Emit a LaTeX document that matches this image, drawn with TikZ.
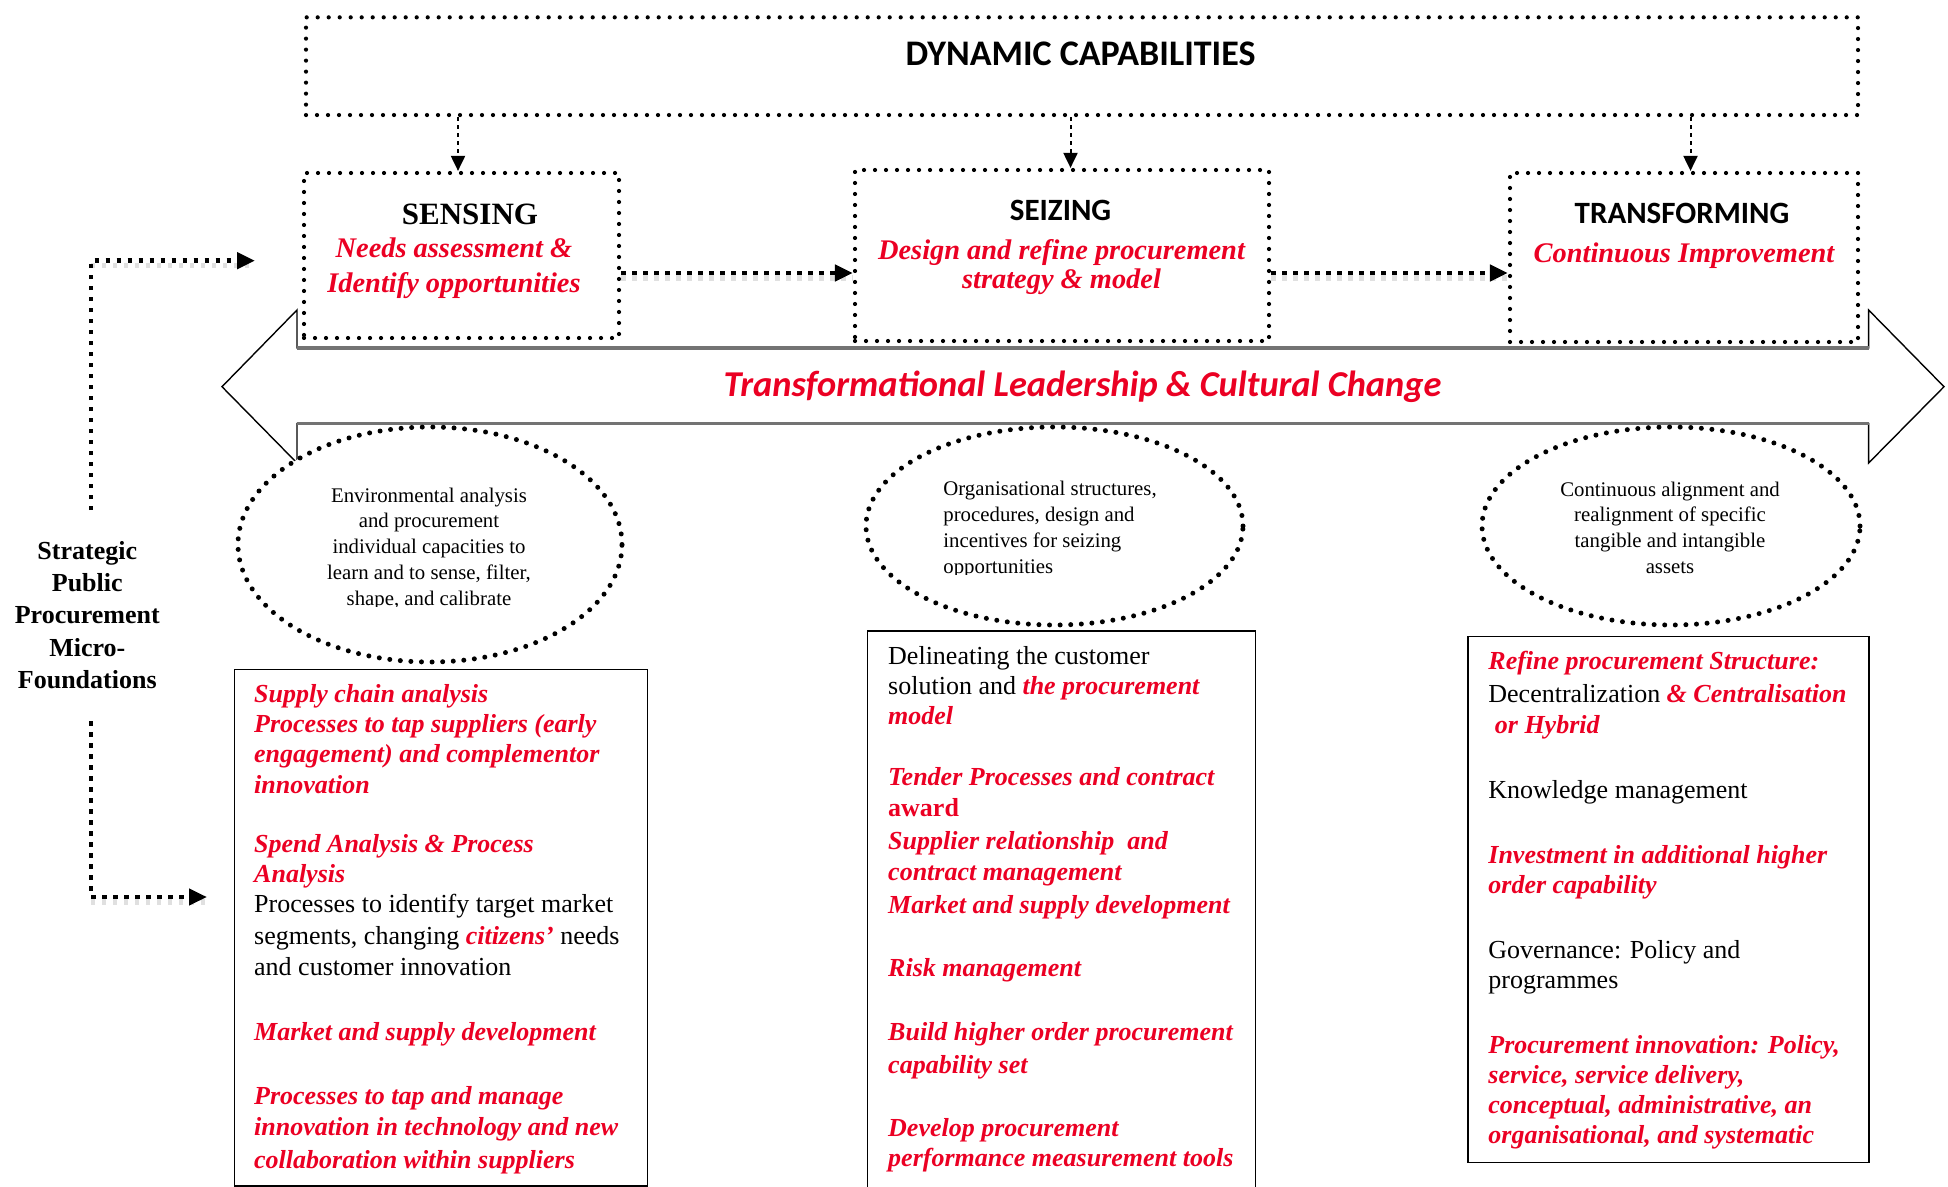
\documentclass[tikz,border=0pt]{standalone}
\usepackage{fontspec}
\setmainfont{Liberation Serif}
\newfontfamily\headsans{Carlito}
\usetikzlibrary{arrows.meta,shapes.geometric}
\definecolor{accentred}{RGB}{235,0,35}
\definecolor{bodygray}{RGB}{115,115,115}
\newcommand{\rbi}[1]{{\color{accentred}\bfseries\itshape #1}}
\newcommand{\rb}[1]{{\color{accentred}\bfseries #1}}

\begin{document}
\begin{tikzpicture}[x=0.5pt,y=-0.5pt,
  dotbox/.style={draw, rectangle, inner sep=0pt, line width=2.1pt, dash pattern=on 0pt off 5.5pt, line cap=round},
  dotell/.style={draw, ellipse, inner sep=0pt, fill=white, line width=2.5pt, dash pattern=on 0pt off 5.3pt, line cap=round},
  listbox/.style={draw, rectangle, inner sep=0pt, line width=0.7pt},
  thinlink/.style={line width=1pt, dash pattern=on 2pt off 2pt, -{Triangle[length=7.5pt,width=7pt]}},
  thicklink/.style={line width=2.2pt, dash pattern=on 2.2pt off 3.3pt, -{Triangle[length=9pt,width=8pt]}},
  linkshadow/.style={line width=2.6pt, dash pattern=on 2.2pt off 3.3pt, black, opacity=0.12},
  txt/.style={inner sep=0pt},
  sanstitle/.style={txt, anchor=base, font=\headsans\bfseries\fontsize{15.5pt}{18pt}\selectfont},
  redsub/.style={txt, anchor=base, text=accentred, font=\bfseries\itshape\fontsize{14.2pt}{17pt}\selectfont},
]
\useasboundingbox (0,0) rectangle (1948,1187);

% ---- leadership band: a double-headed block arrow ----
\draw[line width=0.7pt, fill=white]
  (222,386.7) -- (297,310) -- (297,348) -- (1868.6,348) -- (1868.6,310)
  -- (1944,386.7) -- (1868.6,463) -- (1868.6,423.5) -- (297,423.5) -- (297,463) -- cycle;
\draw[bodygray, line width=1.6pt] (297,348) -- (1868.6,348) (297,423.5) -- (1868.6,423.5);
\node[txt, anchor=base, text=accentred, font=\headsans\bfseries\itshape\fontsize{18.2pt}{20pt}\selectfont]
  (lead) at (1082.5,397) {Transformational Leadership \& Cultural Change};

% ---- dynamic capabilities frame ----
\node[dotbox, minimum width=776pt, minimum height=48.85pt] (dc) at (1082,66.2) {};
\node[txt, anchor=base, font=\headsans\bfseries\fontsize{18pt}{20pt}\selectfont]
  (dctitle) at (1080.5,65.7) {DYNAMIC CAPABILITIES};

% ---- the three capability boxes ----
\node[dotbox, minimum width=157.5pt, minimum height=82.5pt] (sens) at (461.5,255.5) {};
\node[dotbox, minimum width=207pt, minimum height=85.5pt] (seiz) at (1062,255.5) {};
\node[dotbox, minimum width=174pt, minimum height=84.5pt] (trans) at (1684,257.5) {};

\node[txt, anchor=base, font=\bfseries\fontsize{15.5pt}{18pt}\selectfont] (senstitle) at (470,225) {SENSING};
\node[redsub] (sens1) at (454,258) {Needs assessment \&};
\node[redsub] (sens2) at (454,293) {Identify opportunities};

\node[sanstitle] (seiztitle) at (1060.5,221) {SEIZING};
\node[redsub] (seiz1) at (1061.5,260) {Design and refine procurement};
\node[redsub] (seiz2) at (1061.5,289) {strategy \& model};

\node[sanstitle] (transtitle) at (1682,224) {TRANSFORMING};
\node[redsub] (trans1) at (1684,263) {Continuous Improvement};

% ---- links from the frame and between the boxes ----
\draw[thinlink] ([xshift=-1.75pt]sens.north |- dc.south) -- ([xshift=-1.75pt]sens.north);
\draw[thinlink] ([xshift=4.25pt]seiz.north |- dc.south) -- ([xshift=4.25pt]seiz.north);
\draw[thinlink] ([xshift=3.25pt]trans.north |- dc.south) -- ([xshift=3.25pt]trans.north);

\coordinate (h1) at ([yshift=-8.75pt]sens.east);
\coordinate (h2) at ([yshift=-8.75pt]seiz.east);
\draw[linkshadow] ([yshift=-2.5pt]h1) -- ([yshift=-2.5pt]h1 -| seiz.west);
\draw[linkshadow] ([yshift=-2.5pt]h2) -- ([yshift=-2.5pt]h2 -| trans.west);
\draw[thicklink] (h1) -- (h1 -| seiz.west);
\draw[thicklink] (h2) -- (h2 -| trans.west);

% ---- micro-foundation ellipses ----
\node[dotell, minimum width=192pt, minimum height=117.5pt] (envell) at (430,544.5) {};
\node[dotell, minimum width=188.5pt, minimum height=99pt] (orgell) at (1054.5,526) {};
\node[dotell, minimum width=189pt, minimum height=99pt] (alignell) at (1671,526) {};

\begin{scope}
  \clip (240,440) rectangle (620,606);
  \node[txt, anchor=base] (envtext) at (429,502)
    {\fontsize{10.4pt}{12.9pt}\selectfont\begin{tabular}[t]{@{}c@{}}
      Environmental analysis\\ and procurement\\ individual capacities to\\
      learn and to sense, filter,\\ shape, and calibrate\end{tabular}};
\end{scope}
\begin{scope}
  \clip (870,440) rectangle (1240,574);
  \node[txt, anchor=base west] (orgtext) at (943,495.8)
    {\fontsize{10.4pt}{12.9pt}\selectfont\begin{tabular}[t]{@{}l@{}}
      Organisational structures,\\ procedures, design and\\
      incentives for seizing\\ opportunities\end{tabular}};
\end{scope}
\node[txt, anchor=base] (aligntext) at (1670,496)
  {\fontsize{10.4pt}{12.9pt}\selectfont\begin{tabular}[t]{@{}c@{}}
    Continuous alignment and\\ realignment of specific\\
    tangible and intangible\\ assets\end{tabular}};

% ---- lists of micro-foundations ----
\node[listbox, minimum width=206.4pt, minimum height=258.25pt] (senslist) at (441,927.75) {};
\node[listbox, minimum width=194.1pt, minimum height=284.5pt] (seizlist) at (1061.4,915.5) {};
\node[listbox, minimum width=200.5pt, minimum height=263pt] (translist) at (1668.5,899.7) {};

\node[txt, anchor=base west] (senstext) at (253.8,702.8)
  {\fontsize{13pt}{15pt}\selectfont\begin{tabular}[t]{@{}l@{}}
    \rbi{Supply chain analysis}\\
    \rbi{Processes to tap suppliers (early}\\
    \rbi{engagement) and complementor}\\[0.5pt]
    \rbi{innovation}\\[14.2pt]
    \rbi{Spend Analysis \& Process}\\
    \rbi{Analysis}\\
    Processes to identify target market\\[1.15pt]
    segments, changing \rbi{citizens’} needs\\[0.5pt]
    and customer innovation\\[17.3pt]
    \rbi{Market and supply development}\\[17.3pt]
    \rbi{Processes to tap and manage}\\[0.5pt]
    \rbi{innovation in technology and new}\\[1.15pt]
    \rbi{collaboration within suppliers}
  \end{tabular}};

\node[txt, anchor=base west] (seiztext) at (887.8,664.6)
  {\fontsize{13pt}{15pt}\selectfont\begin{tabular}[t]{@{}l@{}}
    Delineating the customer\\
    solution and \rbi{the procurement}\\
    \rbi{model}\\[15.5pt]
    \rbi{Tender Processes and contract}\\[0.4pt]
    \rb{award}\\[1.6pt]
    \rbi{Supplier relationship\ \ and}\\[0.5pt]
    \rbi{contract management}\\[1.5pt]
    \rbi{Market and supply development}\\[16.35pt]
    \rbi{Risk management}\\[17.15pt]
    \rbi{Build higher order procurement}\\[1.3pt]
    \rbi{capability set}\\[16.6pt]
    \rbi{Develop procurement}\\
    \rbi{performance measurement tools}
  \end{tabular}};

\node[txt, anchor=base west] (transtext) at (1488,669.5)
  {\fontsize{13pt}{15pt}\selectfont\begin{tabular}[t]{@{}l@{}}
    \rbi{Refine procurement Structure:}\\[1.7pt]
    Decentralization \rbi{\& Centralisation}\\[0.3pt]
    \rbi{\ or Hybrid}\\[17.65pt]
    Knowledge management\\[17.1pt]
    \rbi{Investment in additional higher}\\
    \rbi{order capability}\\[17.55pt]
    Governance: Policy and\\[0.4pt]
    programmes\\[17.5pt]
    \rbi{Procurement innovation: Policy,}\\
    \rbi{service, service delivery,}\\[-0.4pt]
    \rbi{conceptual, administrative, an}\\
    \rbi{organisational, and systematic}
  \end{tabular}};

% ---- side label and its two links ----
\node[txt, anchor=base] (lab) at (87.3,559.4)
  {\bfseries\fontsize{13pt}{16.1pt}\selectfont\begin{tabular}[t]{@{}c@{}}
    Strategic\\ Public\\ Procurement\\ Micro-\\ Foundations\end{tabular}};
\coordinate (upend) at (255,260.7);
\coordinate (lowend) at (207,897);
\draw[linkshadow] ([xshift=1.85pt,yshift=-2.5pt]lab.north |- upend) -- ([yshift=-2.5pt]upend);
\draw[linkshadow] ([xshift=1.85pt,yshift=-2.5pt]lab.south |- lowend) -- ([yshift=-2.5pt]lowend);
\draw[thicklink] ([xshift=1.85pt,yshift=13.2pt]lab.north) |- (upend);
\draw[thicklink] ([xshift=1.85pt,yshift=-11.55pt]lab.south) |- (lowend);

\end{tikzpicture}
\end{document}
